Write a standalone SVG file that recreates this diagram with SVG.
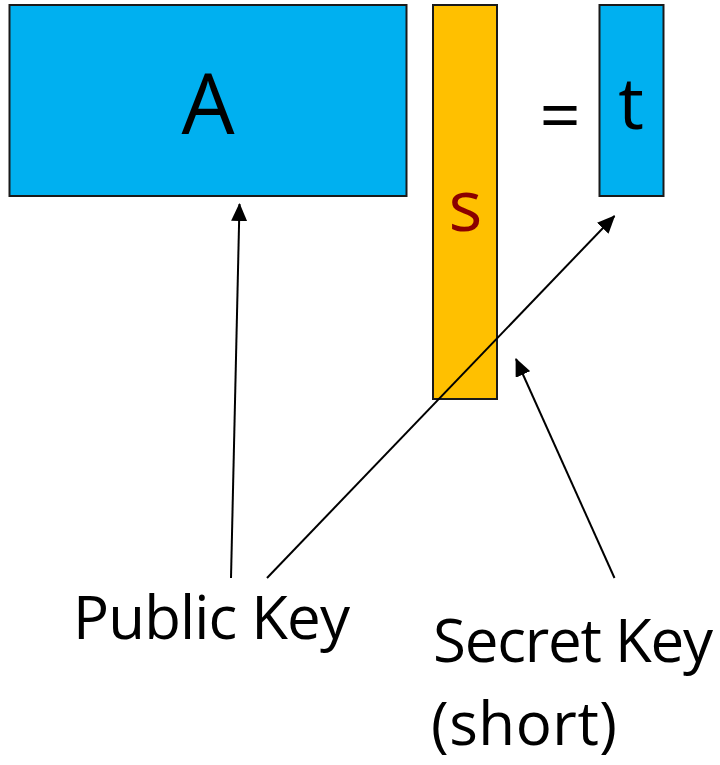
<svg xmlns="http://www.w3.org/2000/svg" width="720" height="765" viewBox="0 0 720 765">
  <style>
    .blue { fill: #00B0F0; stroke: #1a1a1a; stroke-width: 2; }
    .gold { fill: #FFC000; stroke: #1a1a1a; stroke-width: 2; }
    .sym { font-family: "Open Sans", "Noto Sans", sans-serif; fill: #000; text-anchor: middle; }
    .label { font-family: "Open Sans", "Noto Sans", sans-serif; font-size: 60px; fill: #000; }
    .conn { stroke: #000; stroke-width: 2; fill: none; marker-end: url(#arrow); }
  </style>
  <defs>
    <marker id="arrow" markerUnits="userSpaceOnUse" markerWidth="18" markerHeight="16" viewBox="0 0 18 16" refX="17" refY="8" orient="auto">
      <path d="M0,0 L18,8 L0,16 Z" fill="#000"/>
    </marker>
  </defs>
  <rect width="720" height="765" fill="#fff"/>

  <!-- public matrix A -->
  <g id="matrix-a">
    <rect class="blue" x="9.5" y="5" width="397" height="191"/>
    <text class="sym" x="208" y="134" font-size="84">A</text>
  </g>

  <!-- secret vector s -->
  <g id="vector-s">
    <rect class="gold" x="433" y="5" width="64" height="394"/>
    <text class="sym" x="465.5" y="231" font-size="71" style="fill:#8B0000">s</text>
  </g>

  <!-- equals sign -->
  <g id="equals">
    <text class="sym" x="560" y="141" font-size="72">=</text>
  </g>

  <!-- result vector t -->
  <g id="vector-t">
    <rect class="blue" x="599.5" y="5" width="64" height="191"/>
    <text class="sym" x="631" y="129" font-size="72">t</text>
  </g>

  <!-- connectors -->
  <g id="connectors">
    <line class="conn" x1="231" y1="578" x2="239.5" y2="204"/>
    <line class="conn" x1="267" y1="578" x2="614.5" y2="216"/>
    <line class="conn" x1="614.5" y1="578" x2="516" y2="359"/>
  </g>

  <!-- labels -->
  <g id="label-public">
    <text class="label" x="73" y="639" textLength="277">Public Key</text>
  </g>
  <g id="label-secret">
    <text class="label" x="433" y="662" textLength="280">Secret Key</text>
    <text class="label" x="431" y="745" textLength="186">(short)</text>
  </g>
</svg>
